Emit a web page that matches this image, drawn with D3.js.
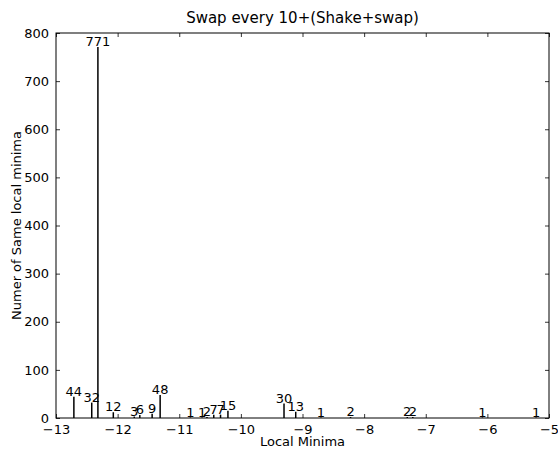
<!DOCTYPE html>
<html>
<head>
<meta charset="utf-8">
<script src="https://cdn.jsdelivr.net/npm/d3@7"></script>
<style>
  body { margin: 0; background: #fff; }
  text { font-family: "DejaVu Sans", sans-serif; fill: #000; }
</style>
</head>
<body>
<svg id="main-svg"></svg>
<script>
// local minima values (x) and how many times each was hit (y)
let minima = [-12.71, -12.42, -12.32, -12.07, -11.73, -11.64, -11.44, -11.31,
  -10.82, -10.63, -10.55, -10.44, -10.33, -10.21, -9.30, -9.11, -8.70, -8.22,
  -7.30, -7.21, -6.08, -5.21];
let counts = [44, 32, 771, 12, 3, 6, 9, 48,
  1, 1, 2, 7, 7, 15, 30, 13, 1, 2,
  2, 2, 1, 1];
let xTicks = [-13, -12, -11, -10, -9, -8, -7, -6, -5];
let yTicks = [0, 100, 200, 300, 400, 500, 600, 700, 800];

let width = 558;
let height = 455;
let margin = { top: 33, right: 9, bottom: 37, left: 56 };
let plotW = width - margin.left - margin.right;
let plotH = height - margin.top - margin.bottom;

let svg = d3.select('#main-svg')
  .attr('width', width)
  .attr('height', height);

let g = svg.append('g')
  .attr('transform', `translate(${margin.left} ${margin.top})`);

let x = d3.scaleLinear().domain([-13, -5]).range([0, plotW]);
let y = d3.scaleLinear().domain([0, 800]).range([plotH, 0]);

let minus = v => String(v).replace('-', '\u2212');

// axes (ticks point inward, mirrored on top and right)
g.append('g')
  .attr('transform', `translate(0 ${plotH})`)
  .call(d3.axisBottom(x).tickValues(xTicks).tickSize(-4).tickPadding(7).tickFormat(minus));
g.append('g')
  .call(d3.axisTop(x).tickValues(xTicks).tickSize(-4).tickFormat(''));
g.append('g')
  .call(d3.axisLeft(y).tickValues(yTicks).tickSize(-4).tickPadding(7));
g.append('g')
  .attr('transform', `translate(${plotW} 0)`)
  .call(d3.axisRight(y).tickValues(yTicks).tickSize(-4).tickFormat(''));

g.selectAll('.domain').remove();
g.selectAll('.tick line').attr('stroke', '#000').attr('stroke-width', 0.8);
g.selectAll('.tick text').style('font-size', '13px');

g.append('rect')
  .attr('width', plotW)
  .attr('height', plotH)
  .attr('fill', 'none')
  .attr('stroke', '#000')
  .attr('stroke-width', 1);

let pts = minima.map((m, i) => [m, counts[i]]);

g.selectAll('line.bar').data(pts).enter().append('line')
  .attr('class', 'bar')
  .attr('x1', d => x(d[0]))
  .attr('x2', d => x(d[0]))
  .attr('y1', y(0))
  .attr('y2', d => y(d[1]))
  .attr('stroke', '#000')
  .attr('stroke-width', 1.5);

g.selectAll('text.lbl').data(pts).enter().append('text')
  .attr('class', 'lbl')
  .attr('x', d => x(d[0]))
  .attr('y', d => y(d[1]) - 1)
  .attr('text-anchor', 'middle')
  .style('font-size', '13px')
  .text(d => d[1]);

svg.append('text')
  .attr('x', margin.left + plotW / 2)
  .attr('y', 23)
  .attr('text-anchor', 'middle')
  .style('font-size', '15px')
  .text('Swap every 10+(Shake+swap)');

svg.append('text')
  .attr('x', margin.left + plotW / 2)
  .attr('y', 446)
  .attr('text-anchor', 'middle')
  .style('font-size', '13px')
  .text('Local Minima');

svg.append('text')
  .attr('transform', `translate(21 ${margin.top + plotH / 2}) rotate(-90)`)
  .attr('text-anchor', 'middle')
  .style('font-size', '13px')
  .text('Numer of Same local minima');
</script>
</body>
</html>
